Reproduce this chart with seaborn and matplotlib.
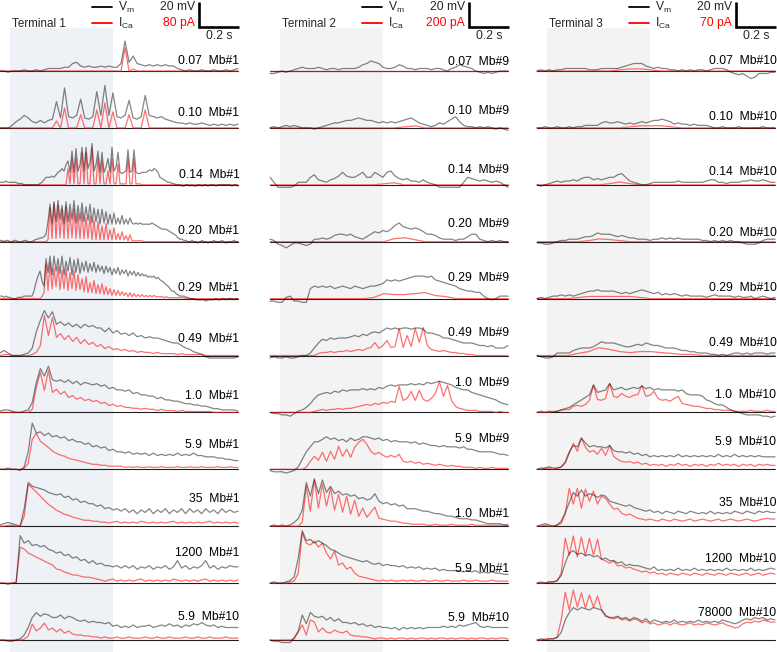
import numpy as np
import matplotlib
matplotlib.use("Agg")
import matplotlib.pyplot as plt
from matplotlib.lines import Line2D
import seaborn as sns

# ======================= DATA =======================
DURATION_S = 1.19            # time shown in every panel
STIM_WINDOW_S = (0.05, 0.565)  # shaded stimulus period
terminal_names = ["Terminal 1", "Terminal 2", "Terminal 3"]
voltage_scale_mV = 20
current_scale_pA = [80, 200, 70]
time_scale_s = 0.2

conc_t1 = ["0.07", "0.10", "0.14", "0.20", "0.29", "0.49", "1.0", "5.9", "35", "1200", "5.9"]
mb_t1 = ["Mb#1"] * 10 + ["Mb#10"]
conc_t2 = ["0.07", "0.10", "0.14", "0.20", "0.29", "0.49", "1.0", "5.9", "1.0", "5.9", "5.9"]
mb_t2 = ["Mb#9"] * 8 + ["Mb#1", "Mb#1", "Mb#10"]
conc_t3 = ["0.07", "0.10", "0.14", "0.20", "0.29", "0.49", "1.0", "5.9", "35", "1200", "78000"]
mb_t3 = ["Mb#10"] * 11

# ---- Terminal 1: Vm (mV) and inward ICa (pA) ----
vm_t1_r01 = [0,0,-1,0,0,0,1,0,0,1, 0,1,2,2,2,2,3,3,6,7, 4,3,4,3,3,4,3,4,3,3, 6,24,7,12,6,5,4,5,4,5, 4,5,4,4,2,1,0,1,0,0, 1,0,0,1,0,0,1,0,1,2]
ica_t1_r01 = [0,0,0,0,0,0,0,0,0,0, 0,0,0,0,0,0,0,0,0,0, 0,0,0,0,0,0,0,0,0,0, 0,74,0,6,0,0,0,0,0,0, 0,0,0,0,0,0,0,0,0,0, 0,0,0,0,0,0,0,0,0,0]
vm_t1_r02 = [0,0,0,2,5,7,10,8,5,4, 6,4,6,7,21,8,32,9,8,10, 23,8,7,9,29,10,34,10,28,9, 8,10,22,8,7,9,26,10,9,8, 9,7,6,5,4,4,3,4,3,3, 4,3,2,3,2,3,2,3,2,3]
ica_t1_r02 = [0,0,0,0,0,0,0,0,0,0, 0,0,0,0,22,0,64,0,0,0, 42,0,0,0,58,0,80,0,51,0, 0,0,42,0,0,0,58,0,0,0, 0,0,0,0,0,0,0,0,0,0, 0,0,0,0,0,0,0,0,0,0]
vm_t1_r03 = [2,2,2,3,2,2,2,2,2,1,1,1,
             0,0,0,0,0,0,0,0,
             1,2,4,6,6,6,7,6,8,10,11,13,
             11,16,19,10,27,10,29,11,16,30,11,30,
             13,18,33,11,16,27,10,26,10,14,21,10,
             30,11,14,26,10,9,10,11,28,10,11,28,
             10,9,9,10,10,10,11,12,11,13,12,10,
             6,5,4,3,2,2,1,1,0,0,0,-1,
             -1,0,0,-1,0,-1,-1,0,0,-1,0,0,
             -1,0,0,0,-1,0,0,0,0,0,0,0,-1,0,0,-1]
ica_t1_r03 = [0,0,0,0,0,0,0,0,0,0, 0,0,0,0,0,0,0,0,0,0, 0,0,0,0,0,0,0,0,0,0, 0,0,0,0,
              51,3,83,3,86,3,3,102,3,102, 3,3,118,3,3,86,3,77,3,3, 45,3,83,3,3,67,3,3,3,3, 83,3,3,83,3,3,3,
              0,0,0,0,0,0,0,0,0,0, 0,0,0,0,0,0,0,0,0,0, 0,0,0,0,0,0,0,0,0,0, 0,0,0,0,0,0,0,0,0,0, 0,0,0,0,0,0,0,0,0]
vm_t1_r04 = [1,1,0,1,1,0,0,1,1,0,0,0,1,1,0,0,0,1,
             2,2,3,3,4,6,
             16,30,14,32,16,33,18,29,14,32, 16,30,18,33,15,29,17,31,16,28, 17,30,15,27,16,26,14,26,15,24, 14,22,14,23,14,19,14,21,14,18, 14,19,
             15,14,15,14,15,14,14,
             14,14,14,15,14,13,12,11,10,10,10,9,8,7,6,5,
             3,2,2,1,1,0,0,1,0,0, -1,0,1,0,0,-1,0,0,1,0, 0,0,1,0,-1,0,0,0,1,0, 0]
ica_t1_r04 = [0,0,0,0,0,0,0,0,0,0, 0,0,0,0,0,0,0,0,0,0, 0,0,0,0,
              6,109,10,122,10,115,13,102,10,112, 10,96,13,106,10,90,10,96,10,77, 10,83,6,70,6,64,6,51,6,58, 6,38,6,45,6,26,6,32,6,19, 3,22,
              3,3,3,3,3,3,0,0,0,0, 0,0,0,0,0,0,0,0,0,0, 0,0,0,0,0,0,0,0,0,0, 0,0,0,0,0,0,0,0,0,0, 0,0,0,0,0,0,0,0,0,0, 0,0,0,0]
vm_t1_r05 = [2,2,1,2,1,1,0,0,0,1,1,1,2,2,2,2,
             2,6,13,18,22,14,10,
             32,21,34,19,34,22,32,20,34,19, 30,22,33,19,31,21,32,20,29,22, 30,21,28,22,29,21,27,22,26,20, 26,21,25,19,24,20,25,19,23,20, 23,18,22,19,
             22,18,21,18,20,18,19,17,18,17, 18,16,17,15,14,13,11,10,8,6, 6,4,3,2,
             2,2,1,1,0,0,0,-1,-1,-1, -1,-1,-2,-1,-1,-1,-1,0,-1,-1, 0,0,-1,0,0,0,-1,0,0]
ica_t1_r05 = [0,0,0,0,0,0,0,0,0,0, 0,0,0,0,0,0,0,0,0,0, 0,
              6,19,
              109,26,115,32,96,38,102,29,90,32, 96,26,83,32,90,26,77,29,64,22, 70,19,51,19,58,16,45,16,48,13, 38,13,32,10,29,10,26,10,22,10, 19,6,19,6,
              16,6,13,6,13,6,10,6,10,6, 10,6,6,6,6,3,6,3,3,3, 3,3,3,3,
              3,3,0,0,0,0,0,0,0,0, 0,0,0,0,0,0,0,0,0,0, 0,0,0,0,0,0,0,0,0]
vm_t1_r06 = [2,4,2,0,0,0,1,2,6,19, 28,36,30,35,25,27,24,26,23,25, 22,25,23,24,22,22,19,22,18,20, 17,18,16,18,15,16,14,15,14,14, 13,12,11,10,10,8,6,5,3,2, 1,-1,-2,-2,-2,-2,-2,-2,-2,-1]
ica_t1_r06 = [0,3,3,0,0,0,0,0,3,10, 32,128,64,122,58,70,51,64,45,58, 38,51,35,42,29,35,22,29,19,22, 16,19,13,16,10,13,10,10,6,10, 6,6,6,6,3,6,3,3,3,3, 3,0,0,0,0,0,0,0,0,0]
vm_t1_r07 = [1,2,2,1,0,0,1,2,8,24, 35,29,37,26,25,26,24,26,23,25, 22,24,23,22,23,21,22,19,20,18, 18,17,18,15,16,14,14,13,13,11, 12,10,10,9,9,8,7,7,6,6, 5,5,4,3,3,2,2,2,2,1]
ica_t1_r07 = [0,0,0,0,0,0,0,0,10,80, 128,70,134,64,74,58,67,48,54,42, 48,38,42,35,38,29,32,22,26,19, 22,16,16,13,13,10,13,10,10,6, 10,6,6,6,3,6,3,3,3,3, 3,3,3,0,0,0,0,0,0,0]
vm_t1_r08 = [0,0,1,0,0,-1,2,14,37,29, 30,27,29,26,27,25,26,23,24,22, 22,20,21,18,19,17,18,15,16,14, 14,13,14,12,13,12,13,11,13,11, 12,11,12,11,13,11,12,11,13,11, 11,10,10,10,9,9,8,8,7,7]
ica_t1_r08 = [0,0,0,0,0,0,3,
              19,96,115,90,80,70,58,51,45,42, 35,32,29,26,22,19,16,16,13,13, 10,10,10,10,
              6,8,6,8,6,6,8,6,6,8, 6,6,6,8,6,6,8,6,6,8, 6,6,6,8,6,6,8,6,6]
vm_t1_r09 = [1,2,3,2,1,0,14,35,32,31, 30,29,27,26,25,26,23,24,21,22, 19,20,18,18,16,17,14,15,13,14, 12,14,11,13,10,13,11,14,10,13, 11,14,10,13,11,14,10,14,11,13, 10,14,11,13,10,14,11,13,11,12]
ica_t1_r09 = [0,0,3,3,0,0,
              32,134,122,109,96,83,70,61,51,45, 38,35,29,26,22,19,19,16,16,13,
              13,10,13,16,10,13,10,13,10,16, 13,10,13,10,13,10,13,16,10,13, 10,13,10,13,10,13,16,10,13,10, 13,10,13,10]
vm_t1_r10 = [0,0,-1,0,0,38,32,34,30,31, 29,30,27,26,24,25,22,23,20,21, 18,19,16,18,15,16,14,14,13,14, 12,14,12,14,11,13,12,14,11,13, 12,14,11,13,18,12,14,11,13,12, 14,18,12,14,11,13,12,14,13,13]
ica_t1_r10 = [0,0,0,0,3,
              115,109,96,90,83,77,70,64,58,45, 42,35,32,26,26,22,19,19,16,13,
              10,6,10,13,6,10,6,10,6,10, 13,6,10,6,10,6,10,6,13,10, 6,10,6,10,6,10,13,6,10,6, 10,6,10,6,10]
vm_t1_r11 = [0,0,-1,-1,0,1,4,10,18,22, 19,21,20,18,18,20,17,19,18,16, 15,16,14,15,14,14,13,14,11,12, 10,11,10,12,10,11,11,12,10,11, 12,11,13,11,12,10,12,11,13,12, 14,12,11,12,10,11,10,10,10,10]
ica_t1_r11 = [0,0,0,0,0,0,3,
              13,51,29,38,54,32,38,26,35,22, 29,19,16,16,13,13,10,10,
              6,10,6,6,10,6,6,10,6,6, 6,10,6,6,10,6,6,10,6,6, 6,10,6,6,10,6,6,10,6,6, 6,10,6,6,6]

# ---- Terminal 2 ----
vm_t2_r01 = [-2,-2,-1,0,-1,0,1,2,3,2, 2,2,3,2,1,2,2,1,2,2, 2,2,3,5,6,8,7,6,3,2, 2,3,5,4,2,2,1,2,2,2, 1,2,2,1,0,2,3,5,4,3, 2,0,-1,-2,-1,-2,-1,0,0,0]
ica_t2_r01 = [0,0,0,0,0,0,0,0,0,0, 0,0,0,0,0,0,0,0,0,0, 0,0,0,0]
vm_t2_r02 = [0,1,0,1,2,1,2,1,0,0, 0,-1,0,1,2,3,4,4,5,6, 6,7,8,7,6,6,5,4,5,4, 5,4,5,6,7,8,6,4,3,2, 1,2,4,3,5,7,9,5,2,1, 1,0,1,0,1,0,-1,0,-1,-2]
ica_t2_r02 = [0,0,0,0,0,0,0,0,0,0, 0,0,0,8,16,0,0,0,0,0, 0,0,0,0]
vm_t2_r03 = [6,2,-2,-2,-2,-2,-1,2,2,2, 6,8,4,3,2,4,5,7,10,7, 6,6,8,10,6,6,10,8,6,10, 11,7,5,4,5,3,3,2,4,2, 1,0,-2,-2,-2,-2,-2,-2,2,6, 5,4,3,4,3,2,3,2,0,-2]
ica_t2_r03 = [0,0,0,0,0,0,0,0,0,0, 0,8,16,0,0,0,0,0,0,0, 0,0,0,0]
vm_t2_r04 = [2,1,-2,-3,-5,-3,-1,-1,-2,-3, -2,2,2,3,2,3,5,6,6,5, 6,4,3,2,4,6,8,7,9,8, 10,13,15,12,11,10,11,10,8,6, 6,5,3,2,2,2,1,2,2,4, 6,6,2,1,0,1,0,1,0,0]
ica_t2_r04 = [0,0,0,0,0,0,0,0,0,0, 0,0,24,32,16,0,0,0,0,0, 0,0,0,0]
vm_t2_r05 = [-2,-2,-3,-3,1,2,-2,-2,-3,-3, 8,10,9,10,9,10,8,9,10,9, 8,10,9,8,9,10,10,11,12,15, 14,15,14,15,16,17,18,18,18,17, 18,15,14,13,12,11,10,8,7,6, 6,5,5,2,0,-1,0,2,2,2]
ica_t2_r05 = [0,0,0,0,0,0,0,0,0,0, 8,40,32,32,40,48,24,16,0,0, 0,0,0,0]
vm_t2_r06 = [-2,-1,-2,-2,-1,-2,-2,-1,0,0, 2,6,10,13,12,14,13,14,14,14, 15,16,15,17,16,18,19,18,20,22, 21,22,21,22,22,21,22,22,21,18, 18,17,16,14,14,13,12,11,10,10, 10,9,8,8,7,8,6,6,6,8]
ica_t2_r06 = [0,0,0,0,0,0,0,0,0,0,0,0,
              16,24,24,32,24,32,32,40,32,40, 48,40,56,64,104,56,80,120,64,72, 216,64,160,72,216,104,224,80,48,40, 32,40,32,24,24,16,16,8,
              8,0,0,0,0,0,0,0,0,0]
vm_t2_r07 = [0,-1,-1,-2,-2,-3,-1,1,2,4, 7,11,14,15,16,15,17,16,18,17, 18,18,18,19,18,19,18,20,19,21, 22,21,22,22,22,23,22,23,22,24, 23,24,25,24,23,22,20,19,18,18, 16,15,14,13,12,11,10,8,7,6]
ica_t2_r07 = [0,0,0,0,0,0,0,0,0,0,0,
              8,16,24,16,24,24,32,24,32,32, 40,48,56,64,56,72,64,80,72,88, 80,208,96,112,168,96,176,104,88,112, 152,248,128,216,96,48,32,24,16,16, 16,8,
              8,8,8,0,8,0,0]
vm_t2_r08 = [-1,-2,-2,-2,-3,-2,-1,2,8,14, 18,22,22,24,26,24,25,23,24,22, 25,23,24,26,26,25,24,25,23,24, 22,23,22,22,22,21,22,20,21,20, 19,19,18,19,18,18,18,17,18,16, 16,15,14,14,14,14,13,12,12,11]
ica_t2_r08 = [0,0,0,0,0,0,0,0,0,
              16,64,104,72,136,64,144,80,184,104, 160,96,176,216,240,200,144,120,136,112, 96,112,96,120,64,56,64,48,56,40, 48,40,32,40,32,24,32,24,24,16, 16,16,
              8,16,8,8,16,8,8,8,8]
vm_t2_r09 = [0,1,0,1,0,1,3,6,13,35, 24,38,26,37,27,32,26,28,25,26, 24,25,22,23,21,22,26,20,18,19, 17,18,16,17,14,14,14,13,12,12, 11,10,10,9,8,8,7,6,6,6, 5,5,4,3,2,2,2,2,1,1]
ica_t2_r09 = [0,0,0,0,0,0,0,0,
              32,320,120,368,144,336,160,304,128,256, 112,240,96,208,80,144,72,112,152,64, 56,48,40,40,32,24,24,16,16,16, 16,
              8,8,16,8,8,8,16,8,8,8, 8,16,8,8,8,8,8,8,8,8, 8]
vm_t2_r10 = [0,1,0,0,1,2,5,20,42,34, 35,32,34,32,30,27,26,24,22,21, 20,19,18,17,18,16,15,16,14,15, 14,14,13,14,12,13,12,13,11,12, 11,12,10,11,10,10,10,10,9,10, 9,10,8,9,8,9,8,8,7,7]
ica_t2_r10 = [0,0,0,0,0,8,16,
              80,400,320,304,336,288,320,240,192,256, 144,160,112,128,80,56,48,40,32,
              24,16,24,16,24,16,16,24,16,24, 16,16,24,16,16,24,16,16,24,16, 16,16,24,16,16,24,16,16,16,24, 16,16,16,16]
vm_t2_r11 = [0,-1,-1,-2,-2,-2,2,7,20,13, 22,19,18,19,16,18,15,17,14,14, 13,14,12,13,11,12,10,11,10,10, 9,10,8,10,9,10,9,10,9,10, 10,10,10,11,10,11,10,12,11,12, 13,14,11,10,11,10,10,10,10,10]
ica_t2_r11 = [0,0,0,0,0,0,8,
              64,120,40,160,144,64,96,64,56,80, 64,56,72,40,32,32,24,24,
              16,8,16,16,8,16,8,16,16,8, 16,8,16,16,8,16,8,16,16,8, 16,8,16,16,8,16,8,16,16,8, 16,8,16,16,8]

# ---- Terminal 3 ----
vm_t3_r01 = [0,1,0,1,0,1,1,2,2,2, 2,2,2,1,1,1,2,2,2,2, 2,3,4,5,6,6,6,4,3,2, 3,2,2,1,1,0,1,0,1,0, 1,1,0,1,2,2,2,1,-1,-2, -3,-2,-4,-6,-5,-2,-2,-2,-1,-1]
ica_t3_r01 = [0,0,0,0,0,0,0,0,3,6, 6,3,0,0,0,0,0,0,0,0, 0,0,0,0]
vm_t3_r02 = [0,0,1,0,0,1,0,0,1,0, 1,1,2,2,2,2,4,5,4,4, 5,4,3,4,3,4,5,4,5,6, 6,7,6,5,3,4,3,3,2,3, 2,2,2,1,0,0,1,0,0,0, 1,0,0,0,0,0,1,0,0,0]
ica_t3_r02 = [0,0,0,0,0,0,0,0,0,3, 6,6,6,3,0,0,0,0,0,0, 0,0,0,0]
vm_t3_r03 = [0,-1,0,1,2,3,2,3,3,4, 3,5,6,6,4,5,4,5,6,6, 8,9,6,3,2,1,0,0,1,2, 2,2,2,2,2,3,2,2,2,2, 2,2,3,4,4,2,2,1,2,2, 2,3,3,4,3,3,4,3,2,2]
ica_t3_r03 = [0,0,0,0,0,0,0,3,8,3, 0,0,0,0,0,0,0,0,0,0, 0,0,0,0]
vm_t3_r04 = [-1,-1,-2,-2,-1,0,1,1,2,2, 2,3,4,4,5,7,6,6,6,5, 4,5,4,3,3,2,2,2,1,2, 2,3,2,3,2,3,2,2,2,2, 2,1,1,0,1,0,1,0,1,0, 0,-1,-2,-2,-2,-1,1,2,2,2]
ica_t3_r04 = [0,0,0,0,0,3,8,6,3,0, 0,0,0,0,0,0,0,0,0,0, 0,0,0,0]
vm_t3_r05 = [0,1,0,1,2,2,3,2,3,2, 3,4,5,6,6,7,6,6,6,6, 5,4,5,4,5,6,7,6,5,4, 5,3,4,3,4,3,2,3,2,2, 2,2,1,2,3,2,2,2,2,1, 2,1,1,2,0,1,2,1,0,1]
ica_t3_r05 = [0,0,0,0,3,6,6,6,6,6, 3,0,0,0,0,0,0,0,0,0, 0,0,0,0]
vm_t3_r06 = [0,-1,-2,-2,-1,2,2,2,2,4, 5,6,6,6,7,9,11,10,10,10, 9,8,7,7,8,9,8,10,9,8, 8,7,6,6,6,5,4,4,3,3, 2,2,2,1,1,0,1,0,1,2, 2,1,2,1,2,2,2,1,2,2]
ica_t3_r06 = [0,0,0,0,6,11,22,17,11,8, 11,11,8,6,3,3,0,0,0,0, 0,0,0,0]
vm_t3_r07 = [0,1,0,1,0,1,2,3,4,6, 8,10,12,14,22,16,17,18,23,18, 19,20,18,19,20,19,21,19,20,18, 19,18,18,18,18,17,18,15,14,14, 14,13,10,9,7,6,6,4,2,1, 0,-1,-2,-2,-2,-2,-3,-3,-4,-3]
ica_t3_r07 = [0,0,0,0,3,3,6,8,8,17, 20,17,22,34,76,36,34,39,81,45, 42,53,45,42,48,50,76,45,48,59, 39,34,36,31,39,45,25,22,20,17, 17,14,11,11,8,8,6,6,6,3, 3,3,3,6,3,3,3,6,3,3]
vm_t3_r08 = [0,1,1,2,1,1,2,6,14,19, 18,25,21,18,19,18,18,17,19,15, 14,14,13,14,12,13,11,12,10,11, 10,11,10,11,10,12,10,11,10,11, 10,11,10,11,10,12,10,11,10,12, 10,11,10,11,10,11,10,10,10,10]
ica_t3_r08 = [0,0,3,3,0,3,6,17,45,73, 50,87,62,48,53,42,59,39,67,36, 28,22,20,22,17,20,14,17,11,14, 11,14,8,14,11,17,11,14,8,14, 11,14,8,14,11,17,11,14,11,14, 8,14,11,14,8,14,11,14,11,11]
vm_t3_r09 = [0,1,2,1,0,1,4,11,19,27, 24,29,24,26,25,23,25,24,20,19, 18,17,16,17,15,14,13,12,13,11, 12,10,12,11,10,12,11,10,12,11, 10,11,10,12,10,11,10,11,10,12, 11,10,12,11,10,12,11,12,11,11]
ica_t3_r09 = [0,0,3,0,0,3,8,34,106,62, 106,50,104,70,98,62,84,78,62,48, 50,36,31,34,28,22,20,17,20,17, 14,20,17,14,20,17,14,17,20,14, 17,20,17,14,17,20,14,17,20,17, 14,17,20,17,14,17,20,22,20,20]
vm_t3_r10 = [0,1,0,1,1,2,6,16,24,26, 23,24,22,23,21,22,19,20,18,18, 16,17,14,15,14,14,13,12,11,13, 10,11,10,11,10,12,10,11,10,12, 10,11,10,11,10,11,10,12,10,11, 10,11,10,12,10,11,10,11,12,11]
ica_t3_r10 = [0,0,0,3,3,6,28,126,78,132, 73,129,76,126,78,123,67,62,56,62, 48,50,42,45,39,36,31,34,28,31, 25,28,22,28,25,22,28,25,22,28, 25,22,28,25,22,28,25,22,28,25, 22,25,28,22,25,28,22,25,28,25]
vm_t3_r11 = [0,1,0,1,1,2,6,16,22,26, 24,26,25,24,26,25,24,19,18,18, 19,17,18,16,18,17,15,17,14,16, 15,14,15,14,16,14,15,14,15,14, 16,14,15,14,15,14,16,15,14,13, 14,16,17,16,18,17,18,16,17,16]
ica_t3_r11 = [0,0,3,3,3,8,56,134,84,140, 92,132,90,126,92,123,84,70,62,59, 64,56,59,53,59,56,48,53,45,48, 42,45,48,42,48,45,42,45,48,42, 45,42,48,45,42,45,48,42,39,34, 36,45,50,48,53,50,56,53,50,50]

vm_traces = [
    [vm_t1_r01, vm_t1_r02, vm_t1_r03, vm_t1_r04, vm_t1_r05, vm_t1_r06, vm_t1_r07, vm_t1_r08, vm_t1_r09, vm_t1_r10, vm_t1_r11],
    [vm_t2_r01, vm_t2_r02, vm_t2_r03, vm_t2_r04, vm_t2_r05, vm_t2_r06, vm_t2_r07, vm_t2_r08, vm_t2_r09, vm_t2_r10, vm_t2_r11],
    [vm_t3_r01, vm_t3_r02, vm_t3_r03, vm_t3_r04, vm_t3_r05, vm_t3_r06, vm_t3_r07, vm_t3_r08, vm_t3_r09, vm_t3_r10, vm_t3_r11],
]
ica_traces = [
    [ica_t1_r01, ica_t1_r02, ica_t1_r03, ica_t1_r04, ica_t1_r05, ica_t1_r06, ica_t1_r07, ica_t1_r08, ica_t1_r09, ica_t1_r10, ica_t1_r11],
    [ica_t2_r01, ica_t2_r02, ica_t2_r03, ica_t2_r04, ica_t2_r05, ica_t2_r06, ica_t2_r07, ica_t2_r08, ica_t2_r09, ica_t2_r10, ica_t2_r11],
    [ica_t3_r01, ica_t3_r02, ica_t3_r03, ica_t3_r04, ica_t3_r05, ica_t3_r06, ica_t3_r07, ica_t3_r08, ica_t3_r09, ica_t3_r10, ica_t3_r11],
]
concs = [conc_t1, conc_t2, conc_t3]
mbs = [mb_t1, mb_t2, mb_t3]

# ======================= LAYOUT / STYLE =======================
sns.set_theme(style="white")
plt.rcParams["font.family"] = ["Liberation Sans", "DejaVu Sans"]
plt.rcParams["mathtext.fontset"] = "custom"
plt.rcParams["mathtext.rm"] = "Liberation Sans"
plt.rcParams["mathtext.default"] = "regular"

W, H = 777, 652
fig = plt.figure(figsize=(W / 100, H / 100), dpi=100)
fig.patch.set_facecolor("white")

col_left_px = [0, 270, 537]
panel_w_px = 238
row0_base_px = 71
row_step_px = 56.9
mv_per_px = 0.8
below_px = 5
shade_top_px = 28
shade_colors = ["#eef1f6", "#f3f3f3", "#f3f3f3"]
label_off_px = [[10, 15, 10, 11, 11, 17, 16, 24, 27, 30, 23],
                [9, 17, 15, 18, 21, 23, 29, 30, 12, 14, 22],
                [10, 11, 13, 9, 11, 12, 17, 27, 23, 24, 27]]
VM_COLOR, VM_ALPHA = "black", 0.48
CA_COLOR, CA_ALPHA = "#ff1a1a", 0.62
LW = 0.9
FS = 8.7


def fx(px):
    return px / W


def fy(py):
    return 1 - py / H


for c in range(3):
    left = col_left_px[c]
    # background shading for stimulus
    ax_bg = fig.add_axes([fx(left), 0, panel_w_px / W, (H - shade_top_px) / H])
    ax_bg.set_xlim(0, DURATION_S)
    ax_bg.axvspan(*STIM_WINDOW_S, color=shade_colors[c], lw=0)
    ax_bg.axis("off")

    ratio = current_scale_pA[c] / voltage_scale_mV
    ylim_mv = (-below_px * mv_per_px, (row_step_px - below_px) * mv_per_px)
    for r in range(11):
        base = row0_base_px + r * row_step_px
        rect = [fx(left), fy(base + below_px), panel_w_px / W, row_step_px / H]
        ax_i = fig.add_axes(rect)
        ax_i.set_xlim(0, DURATION_S)
        ax_i.set_ylim(ylim_mv[0] * ratio, ylim_mv[1] * ratio)
        ax_i.axhline(0, color="#202020", lw=0.8, zorder=1)
        ica = np.asarray(ica_traces[c][r], dtype=float)
        t_i = np.linspace(0, DURATION_S, len(ica))
        sns.lineplot(x=t_i, y=ica, ax=ax_i, color=CA_COLOR, alpha=CA_ALPHA, lw=LW,
                     estimator=None, sort=False, legend=False)
        ax_v = ax_i.twinx()
        ax_v.set_xlim(0, DURATION_S)
        ax_v.set_ylim(*ylim_mv)
        vm = np.asarray(vm_traces[c][r], dtype=float)
        t_v = np.linspace(0, DURATION_S, len(vm))
        sns.lineplot(x=t_v, y=vm, ax=ax_v, color=VM_COLOR, alpha=VM_ALPHA, lw=LW,
                     estimator=None, sort=False, legend=False)
        for a in (ax_i, ax_v):
            a.axis("off")
            for ln in a.lines:
                ln.set_clip_on(False)
        ax_v.text(1.197, label_off_px[c][r] * mv_per_px, f"{concs[c][r]}  {mbs[c][r]}",
                  ha="right", va="center", fontsize=FS, color="black", clip_on=False)
        if r == 0:
            # scale bar in data units
            t0 = 0.995
            v0 = (row0_base_px - 27) * mv_per_px
            ax_v.plot([t0, t0, t0 + time_scale_s], [v0 + voltage_scale_mV, v0, v0],
                      color="black", lw=1.9, clip_on=False,
                      solid_joinstyle="miter", solid_capstyle="butt")

    # header
    fig.text(fx(left + 12), fy(24), terminal_names[c], ha="left", va="center", fontsize=8.4)
    fig.add_artist(Line2D([fx(left + 92), fx(left + 112)], [fy(6.5), fy(6.5)],
                          transform=fig.transFigure, color="black", lw=1.3))
    fig.add_artist(Line2D([fx(left + 92), fx(left + 112)], [fy(22.5), fy(22.5)],
                          transform=fig.transFigure, color="red", lw=1.3))
    fig.text(fx(left + 118), fy(7), "V$_{m}$", ha="left", va="center", fontsize=FS)
    fig.text(fx(left + 118), fy(23), "I$_{Ca}$", ha="left", va="center", fontsize=FS)
    fig.text(fx(left + 195), fy(7), f"{voltage_scale_mV} mV", ha="right", va="center", fontsize=FS)
    fig.text(fx(left + 195), fy(23), f"{current_scale_pA[c]} pA", ha="right", va="center",
             fontsize=FS, color="red")
    fig.text(fx(left + 219), fy(36), f"{time_scale_s} s", ha="center", va="center", fontsize=FS)

fig.savefig("out.png", dpi=100, facecolor="white")
